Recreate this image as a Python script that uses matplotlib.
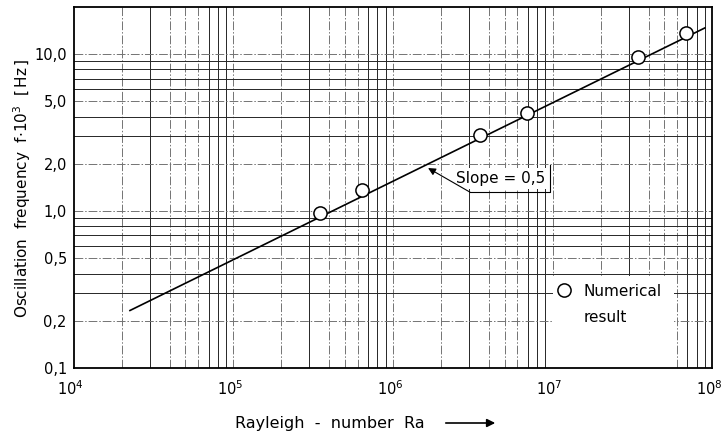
import numpy as np
from matplotlib import pyplot as plt
from matplotlib.patches import Rectangle
from matplotlib.lines import Line2D
from matplotlib.transforms import ScaledTranslation

# numerical results
ra_num = [3.5e5, 6.4e5, 3.5e6, 6.9e6, 3.45e7, 6.9e7]
f_num = [0.97, 1.36, 3.05, 4.2, 9.6, 13.6]

# fitted line, slope 0.5 on log-log axes
ra_fit = [2.25e4, 9.0e7]
f_coef = 1.55e-3
f_slope = 0.5

yticks = [0.1, 0.2, 0.5, 1.0, 2.0, 5.0, 10.0]
ytick_labels = ['0,1', '0,2', '0,5', '1,0', '2,0', '5,0', '10,0']


def main():
    fig = plt.figure(figsize=(7.23, 4.36), dpi=100)
    ax = fig.add_axes([0.102, 0.156, 0.883, 0.828])
    ax.set_xscale('log')
    ax.set_yscale('log')
    ax.set_xlim(1e4, 1e8)
    ax.set_ylim(0.1, 20)

    # graph paper grid: a mix of solid and broken lines
    dashdot = (0, (9, 2, 1.5, 2))
    for dec in range(4, 8):
        for m in range(1, 10):
            x = m * 10.0 ** dec
            if x <= 1e4:
                continue
            ls = '-' if m in (3, 7, 8, 9) else dashdot
            col = '0.15' if ls == '-' else '0.45'
            ax.axvline(x, color=col, lw=0.7, ls=ls, zorder=0.5)
    for dec in range(-1, 2):
        for m in range(1, 10):
            y = m * 10.0 ** dec
            if y <= 0.1 or y >= 20:
                continue
            ls = dashdot if m in (1, 2, 5) else '-'
            col = '0.15' if ls == '-' else '0.45'
            ax.axhline(y, color=col, lw=0.7, ls=ls, zorder=0.5)

    # blank area behind the legend
    ax.add_patch(Rectangle((0.751, 0.0), 0.19, 0.255, transform=ax.transAxes,
                           facecolor='white', edgecolor='none', zorder=1))

    xs = np.array(ra_fit)
    ax.plot(xs, f_coef * xs ** f_slope, color='k', lw=1.2, zorder=3)
    ax.plot(ra_num, f_num, 'o', ms=9.5, mfc='white', mec='k', mew=1.1,
            zorder=4)

    # slope label with bent leader
    ax.text(2.5e6, 1.62, 'Slope = 0,5', fontsize=11, va='center', ha='left',
            bbox=dict(boxstyle='square,pad=0.2', fc='white', ec='none'),
            zorder=5)
    ax.plot([3.04e6, 9.7e6, 9.7e6], [1.32, 1.32, 1.96], color='k', lw=0.8,
            zorder=5)
    ax.annotate('', xy=(1.66e6, 1.88), xytext=(3.04e6, 1.32),
                arrowprops=dict(arrowstyle='-|>', color='k', lw=0.8,
                                mutation_scale=11, shrinkA=0, shrinkB=0),
                zorder=5)

    handle = Line2D([], [], ls='none', marker='o', ms=9.5, mfc='white',
                    mec='k', mew=1.1)
    blank = Line2D([], [], ls='none')
    ax.legend([handle, blank], ['Numerical', 'result'], loc='upper left',
              bbox_to_anchor=(0.735, 0.25), frameon=False, fontsize=11,
              handletextpad=0.25, labelspacing=0.75, borderaxespad=0.0)

    ax.set_yticks(yticks)
    ax.set_yticklabels(ytick_labels)
    ax.yaxis.set_minor_formatter(plt.NullFormatter())
    ax.set_xticks([1e4, 1e5, 1e6, 1e7, 1e8])
    ax.tick_params(which='both', length=0, labelsize=10.5, colors='k')
    ax.tick_params(axis='x', pad=8)
    ax.tick_params(axis='y', pad=5)
    shift = ScaledTranslation(-0.03, 0, fig.dpi_scale_trans)
    for lab in ax.get_xticklabels():
        lab.set_transform(lab.get_transform() + shift)
    for s in ax.spines.values():
        s.set_linewidth(1.3)

    fig.text(22 / 723, 1 - 188 / 436,
             r'Oscillation  frequency  f$\cdot$10$^3$  $\left[\,\mathrm{Hz}\,\right]$',
             fontsize=11, rotation=90, ha='center', va='center')
    fig.text(235 / 723, 1 - 423 / 436, 'Rayleigh  -  number  Ra', fontsize=11.5,
             ha='left', va='center')
    ax.annotate('', xy=(498 / 723, 1 - 423 / 436),
                xytext=(443 / 723, 1 - 423 / 436), xycoords='figure fraction',
                arrowprops=dict(arrowstyle='-|>', color='k', lw=1.2,
                                mutation_scale=12))

    fig.savefig('out.png', dpi=100)


if __name__ == "__main__":
    main()
